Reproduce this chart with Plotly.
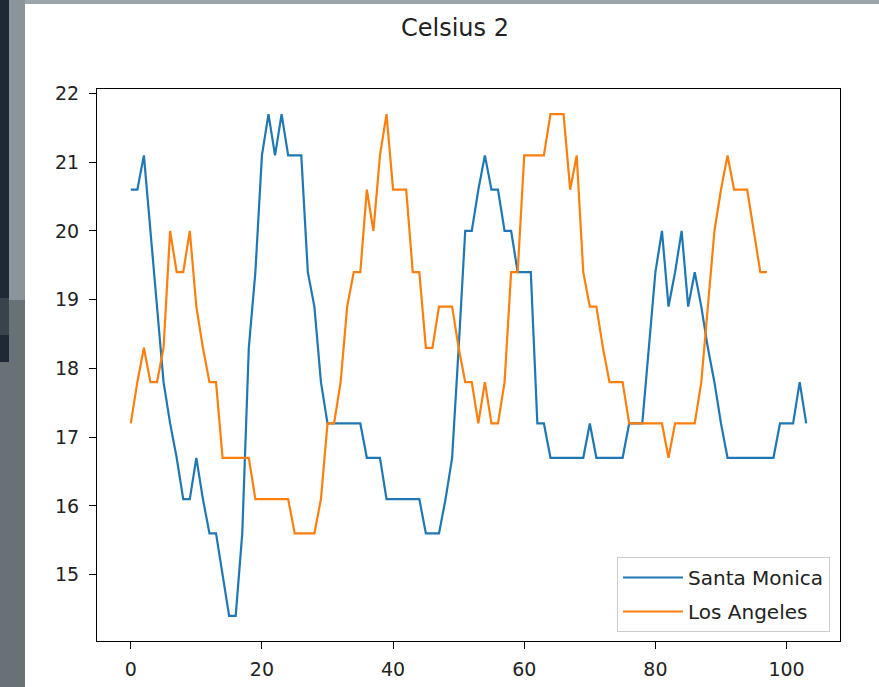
import plotly.graph_objects as go

santa_monica = [
    20.6, 20.6, 21.1, 20.0, 18.9, 17.8, 17.2, 16.7, 16.1, 16.1,
    16.7, 16.1, 15.6, 15.6, 15.0, 14.4, 14.4, 15.6, 18.3, 19.4,
    21.1, 21.7, 21.1, 21.7, 21.1, 21.1, 21.1, 19.4, 18.9, 17.8,
    17.2, 17.2, 17.2, 17.2, 17.2, 17.2, 16.7, 16.7, 16.7, 16.1,
    16.1, 16.1, 16.1, 16.1, 16.1, 15.6, 15.6, 15.6, 16.1, 16.7,
    18.3, 20.0, 20.0, 20.6, 21.1, 20.6, 20.6, 20.0, 20.0, 19.4,
    19.4, 19.4, 17.2, 17.2, 16.7, 16.7, 16.7, 16.7, 16.7, 16.7,
    17.2, 16.7, 16.7, 16.7, 16.7, 16.7, 17.2, 17.2, 17.2, 18.3,
    19.4, 20.0, 18.9, 19.4, 20.0, 18.9, 19.4, 18.9, 18.3, 17.8,
    17.2, 16.7, 16.7, 16.7, 16.7, 16.7, 16.7, 16.7, 16.7, 17.2,
    17.2, 17.2, 17.8, 17.2,
]

los_angeles = [
    17.2, 17.8, 18.3, 17.8, 17.8, 18.3, 20.0, 19.4, 19.4, 20.0,
    18.9, 18.3, 17.8, 17.8, 16.7, 16.7, 16.7, 16.7, 16.7, 16.1,
    16.1, 16.1, 16.1, 16.1, 16.1, 15.6, 15.6, 15.6, 15.6, 16.1,
    17.2, 17.2, 17.8, 18.9, 19.4, 19.4, 20.6, 20.0, 21.1, 21.7,
    20.6, 20.6, 20.6, 19.4, 19.4, 18.3, 18.3, 18.9, 18.9, 18.9,
    18.3, 17.8, 17.8, 17.2, 17.8, 17.2, 17.2, 17.8, 19.4, 19.4,
    21.1, 21.1, 21.1, 21.1, 21.7, 21.7, 21.7, 20.6, 21.1, 19.4,
    18.9, 18.9, 18.3, 17.8, 17.8, 17.8, 17.2, 17.2, 17.2, 17.2,
    17.2, 17.2, 16.7, 17.2, 17.2, 17.2, 17.2, 17.8, 18.9, 20.0,
    20.6, 21.1, 20.6, 20.6, 20.6, 20.0, 19.4, 19.4,
]

series_names = ["Santa Monica", "Los Angeles"]
x_ticks = [0, 20, 40, 60, 80, 100]
y_ticks = [15, 16, 17, 18, 19, 20, 21, 22]
title_text = "Celsius 2"

W, H = 879, 687
L, R, T, B = 97, 840, 89, 641

FONT = "DejaVu Sans, Liberation Sans, sans-serif"

fig = go.Figure()
fig.add_trace(go.Scatter(
    x=list(range(len(santa_monica))), y=santa_monica, mode="lines",
    name=series_names[0], legendgroup="a",
    line=dict(color="#1f77b4", width=2.2),
))
fig.add_trace(go.Scatter(
    x=list(range(len(los_angeles))), y=los_angeles, mode="lines",
    name=series_names[1], legendgroup="b",
    line=dict(color="#ff7f0e", width=2.2),
))

pw = R - L
ph = B - T


def px2x(px):
    return (px - L) / pw


def py2y(py):
    return (B - py) / ph


shapes = [
    dict(type="rect", xref="paper", yref="paper", x0=px2x(0), x1=px2x(25),
         y0=py2y(H), y1=py2y(0), fillcolor="#687176", line=dict(width=0), layer="below"),
    dict(type="rect", xref="paper", yref="paper", x0=px2x(0), x1=px2x(25),
         y0=py2y(300), y1=py2y(0), fillcolor="#8a959b", line=dict(width=0), layer="below"),
    dict(type="rect", xref="paper", yref="paper", x0=px2x(0), x1=px2x(9),
         y0=py2y(362), y1=py2y(0), fillcolor="#1e2935", line=dict(width=0), layer="below"),
    dict(type="rect", xref="paper", yref="paper", x0=px2x(0), x1=px2x(9),
         y0=py2y(335), y1=py2y(298), fillcolor="#39434c", line=dict(width=0), layer="below"),
    dict(type="rect", xref="paper", yref="paper", x0=px2x(25), x1=px2x(W),
         y0=py2y(4), y1=py2y(0), fillcolor="#9aa4aa", line=dict(width=0), layer="below"),
]

fig.update_layout(
    width=W, height=H,
    margin=dict(l=L, r=W - R, t=T, b=H - B, autoexpand=False),
    paper_bgcolor="white", plot_bgcolor="white",
    shapes=shapes,
    title=dict(text=title_text, x=455 / W, xref="container", xanchor="center",
               y=1 - 28 / H, yref="container", yanchor="middle",
               font=dict(family=FONT, size=24, color="#222222")),
    xaxis=dict(range=[-5.15, 108.15], tickvals=x_ticks, showgrid=False, zeroline=False,
               showline=True, mirror=True, linecolor="black", linewidth=1,
               ticks="outside", ticklen=7, tickwidth=1, tickcolor="black",
               ticklabelstandoff=4,
               tickfont=dict(family=FONT, size=19, color="#222222")),
    yaxis=dict(range=[14.035, 22.065], tickvals=y_ticks, showgrid=False, zeroline=False,
               showline=True, mirror=True, linecolor="black", linewidth=1,
               ticks="outside", ticklen=7, tickwidth=1, tickcolor="black",
               ticklabelstandoff=6,
               tickfont=dict(family=FONT, size=19, color="#222222")),
    legend=dict(x=px2x(830), y=py2y(632), xanchor="right", yanchor="bottom",
                bgcolor="rgba(255,255,255,0.8)", bordercolor="#cccccc", borderwidth=1,
                font=dict(family=FONT, size=20, color="#222222"),
                traceorder="grouped", tracegroupgap=5, itemwidth=60),
    showlegend=True,
)

fig.write_html("out.html", config={"displayModeBar": False},
               post_script="document.body.style.margin='0px';document.body.style.padding='0px';")
